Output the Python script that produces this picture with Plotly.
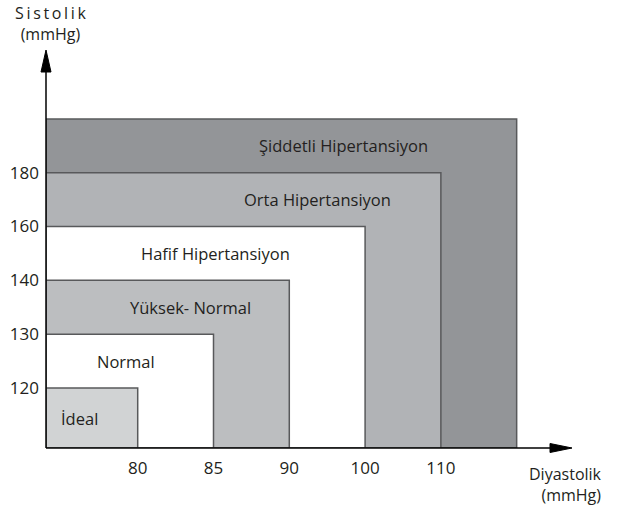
import plotly.graph_objects as go

# ---------------- data ----------------
categories = ["İdeal", "Normal", "Yüksek- Normal", "Hafif Hipertansiyon",
              "Orta Hipertansiyon", "Şiddetli Hipertansiyon"]
diastolic_limits = [80, 85, 90, 100, 110]          # x tick labels (mmHg)
systolic_limits = [120, 130, 140, 160, 180]        # y tick labels (mmHg)
fill_colors = ["#d1d3d4", "#ffffff", "#bcbec0", "#ffffff", "#b1b3b6", "#939598"]

# ---------------- layout / style ----------------
W, H = 623, 508
ML, MR, MT, MB = 46, 51, 50, 60
X_ORIGIN, X_END = -0.21, 6.73      # axis index coordinates
Y_ORIGIN, Y_END = -1.115, 6.28
label_x = [0.235, 0.84, 1.69, 2.03, 3.37, 3.72]    # label anchor (axis index units)
EDGE = "#58595b"
TXT = "#231f20"
FONT = "Open Sans"

# scale: each diastolic/systolic limit maps to an ordinal position on the axis
x_tickvals = [i + 1 for i in range(len(diastolic_limits))]
y_tickvals = [i for i in range(len(systolic_limits))]
x_upper = x_tickvals + [len(diastolic_limits) + 1]
y_upper = y_tickvals + [len(systolic_limits)]

fig = go.Figure()
shapes = []
annotations = []

# rectangles, outermost first
for i in reversed(range(len(categories))):
    shapes.append(dict(type="rect", xref="x", yref="y",
                       x0=X_ORIGIN, y0=Y_ORIGIN, x1=x_upper[i], y1=y_upper[i],
                       fillcolor=fill_colors[i], line=dict(color=EDGE, width=1.5),
                       layer="below"))

# category labels, centred vertically in each band
for i, name in enumerate(categories):
    lower = Y_ORIGIN if i == 0 else y_upper[i - 1]
    annotations.append(dict(x=label_x[i], y=(lower + y_upper[i]) / 2, xref="x", yref="y",
                            text=name, showarrow=False,
                            font=dict(family=FONT, size=16.5, color=TXT)))

pw = W - ML - MR
ph = H - MT - MB
# axis lines
shapes.append(dict(type="line", xref="paper", yref="paper", x0=0, y0=0,
                   x1=(552 - ML) / pw, y1=0, line=dict(color="#000", width=1.5)))
shapes.append(dict(type="line", xref="paper", yref="paper", x0=0, y0=0,
                   x1=0, y1=(448 - 70) / ph, line=dict(color="#000", width=1.5)))
# arrow heads
ay_base = (448 - 72) / ph
dx = 5 / pw
shapes.append(dict(type="path", xref="paper", yref="paper",
                   path=f"M {-dx} {ay_base} L 0 1 L {dx} {ay_base} Z",
                   fillcolor="#000", line=dict(color="#000", width=1)))
bx = (550 - ML) / pw
dy = 4.5 / ph
shapes.append(dict(type="path", xref="paper", yref="paper",
                   path=f"M {bx} {-dy} L 1 0 L {bx} {dy} Z",
                   fillcolor="#000", line=dict(color="#000", width=1)))

# axis titles
annotations.append(dict(xref="paper", yref="paper", x=(50 - ML) / pw, y=(448 - 23) / ph,
                        text="S\u2009i\u2009s\u2009t\u2009o\u2009l\u2009i\u2009k<br>(mmHg)",
                        showarrow=False, xanchor="center", yanchor="middle",
                        font=dict(family=FONT, size=16, color=TXT)))
annotations.append(dict(xref="paper", yref="paper", x=(604 - ML) / pw, y=(448 - 485) / ph,
                        text="Diyastolik<br>(mmHg)", align="right",
                        showarrow=False, xanchor="right", yanchor="middle",
                        font=dict(family=FONT, size=16, color=TXT)))

fig.update_layout(
    width=W, height=H,
    margin=dict(l=ML, r=MR, t=MT, b=MB, autoexpand=False),
    paper_bgcolor="white", plot_bgcolor="white",
    shapes=shapes, annotations=annotations,
    showlegend=False,
    xaxis=dict(range=[X_ORIGIN, X_END], tickvals=x_tickvals,
               ticktext=[str(v) for v in diastolic_limits],
               showgrid=False, zeroline=False, showline=False, ticks="",
               ticklabelstandoff=8,
               tickfont=dict(family=FONT, size=17, color=TXT), fixedrange=True),
    yaxis=dict(range=[Y_ORIGIN, Y_END], tickvals=y_tickvals,
               ticktext=[str(v) for v in systolic_limits],
               showgrid=False, zeroline=False, showline=False, ticks="",
               ticklabelstandoff=6,
               tickfont=dict(family=FONT, size=17, color=TXT), fixedrange=True),
)

fig.write_html("out.html", config={"displayModeBar": False},
               post_script="document.body.style.margin='0';")
